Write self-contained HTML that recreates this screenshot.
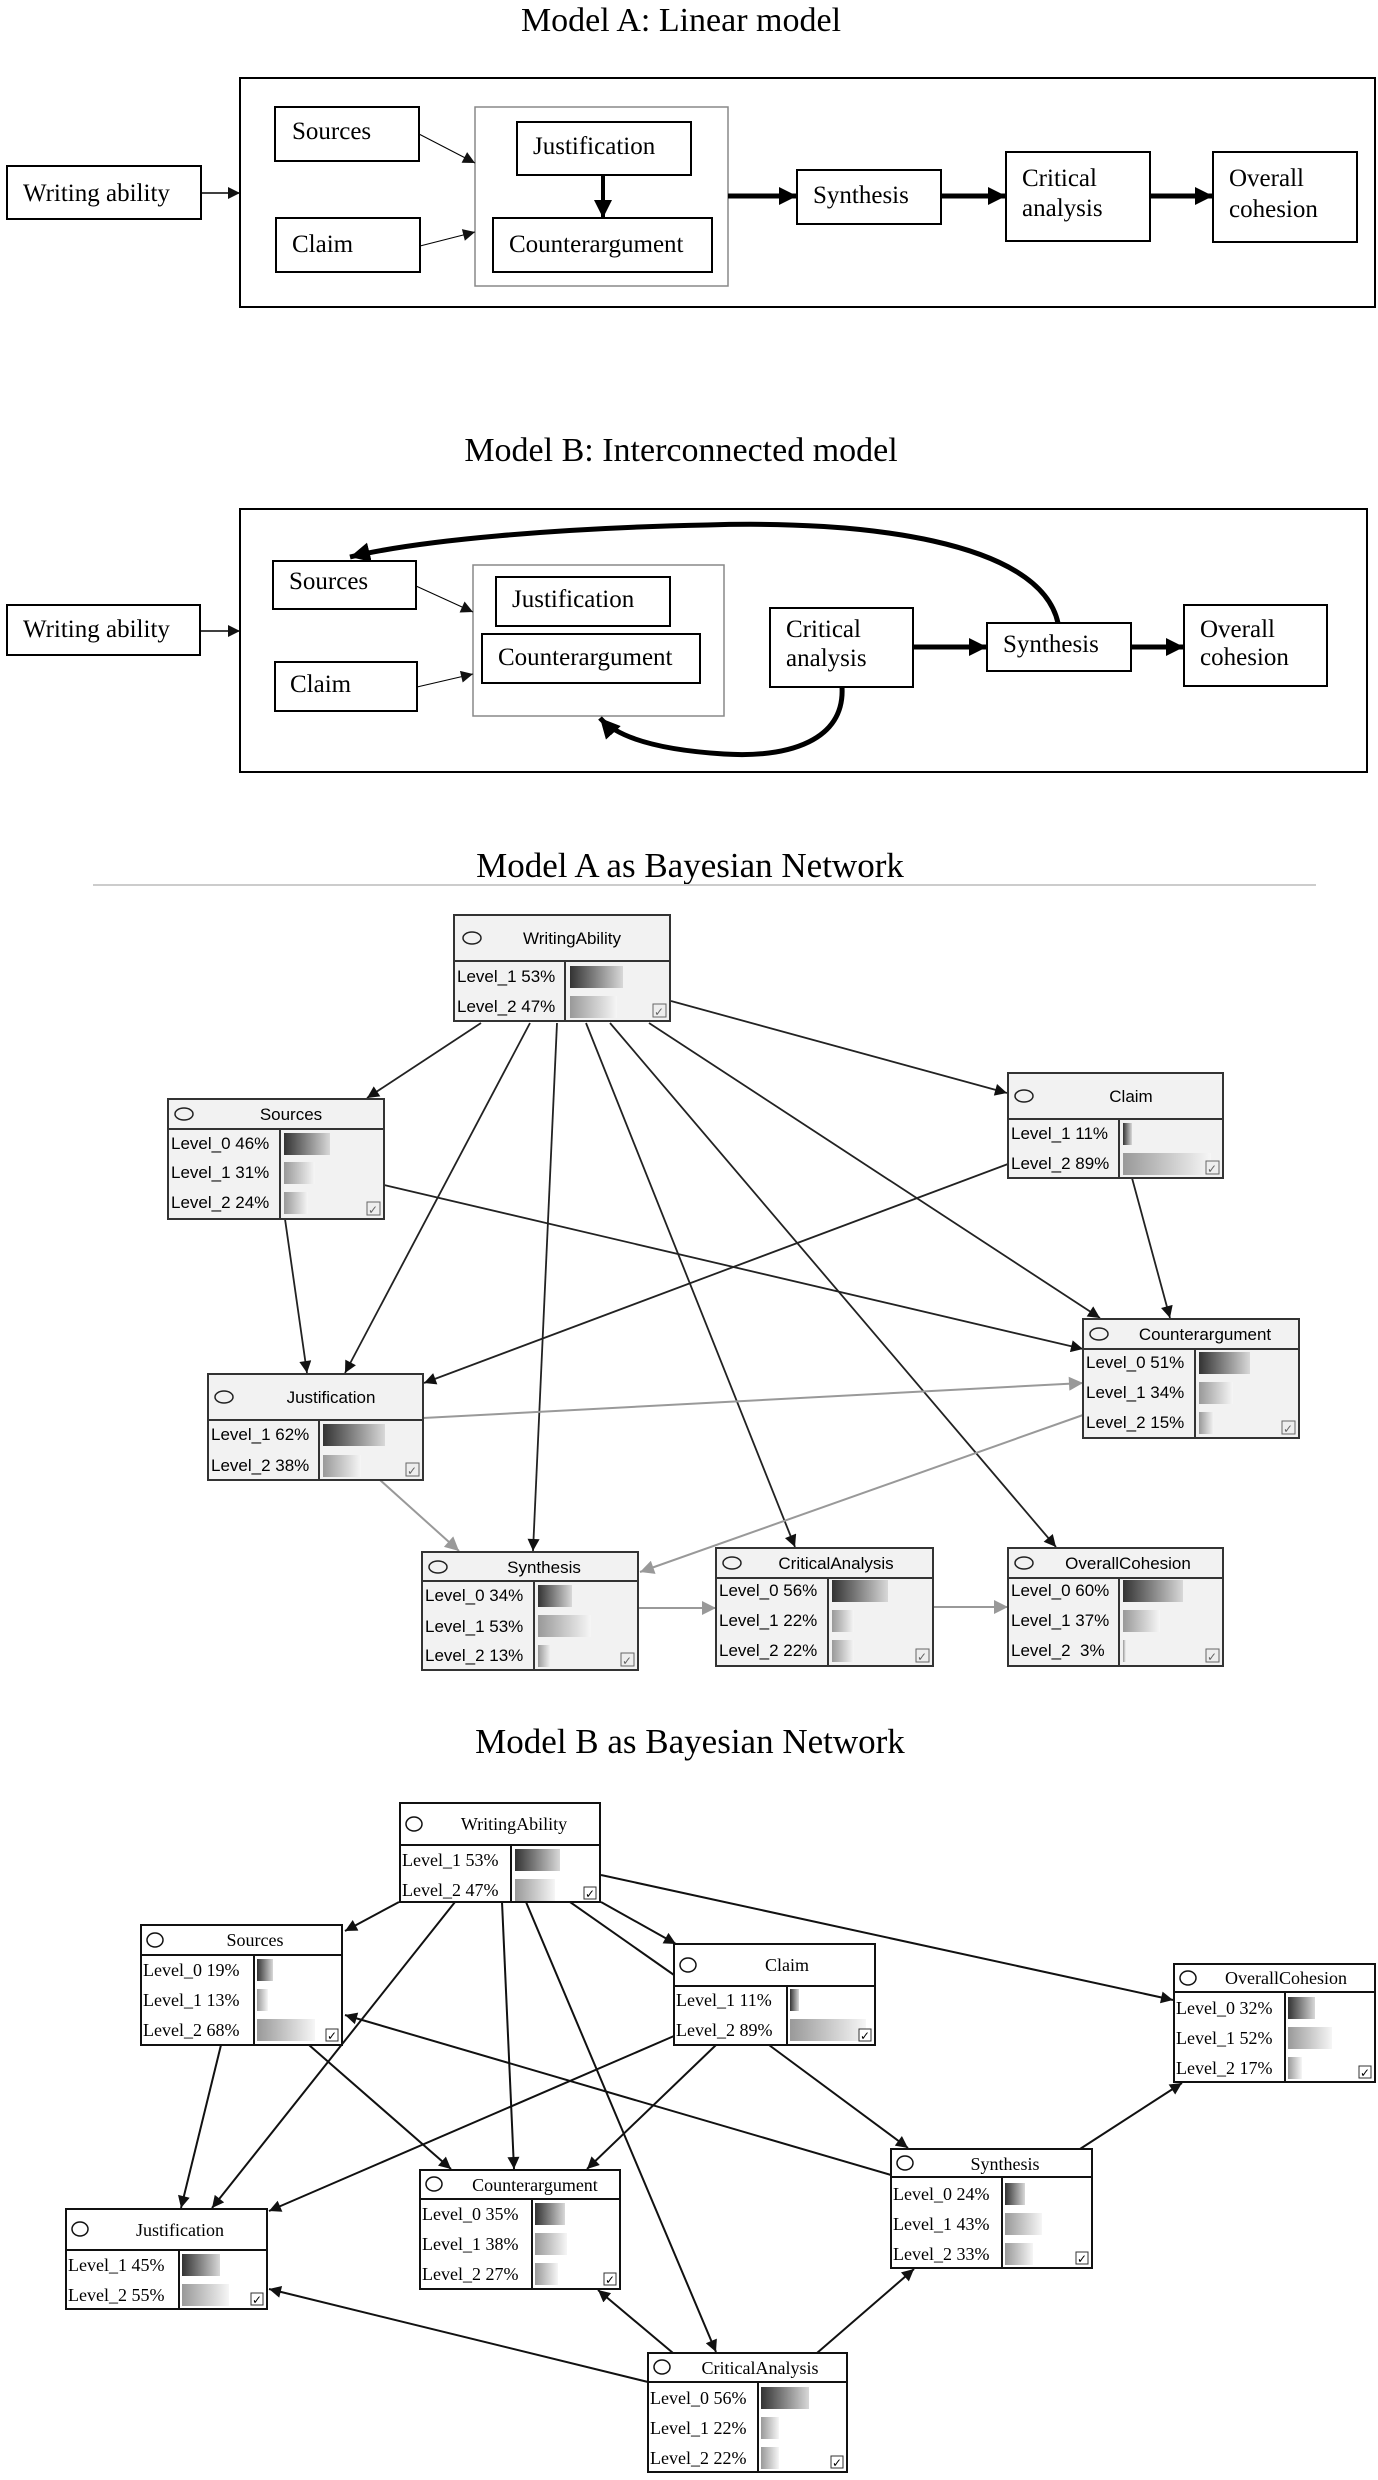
<!DOCTYPE html>
<html><head><meta charset="utf-8"><style>
html,body{margin:0;padding:0;background:#fff;}
svg{display:block;}
.t{font-family:"Liberation Serif",serif;fill:#000;}
.s{font-family:"Liberation Sans",sans-serif;fill:#000;}
</style></head><body>
<svg width="1378" height="2480" viewBox="0 0 1378 2480" xmlns="http://www.w3.org/2000/svg">
<defs>
<linearGradient id="dk" x1="0" x2="1" y1="0" y2="0"><stop offset="0" stop-color="#333"/><stop offset="1" stop-color="#d8d8d8"/></linearGradient>
<linearGradient id="lt" x1="0" x2="1" y1="0" y2="0"><stop offset="0" stop-color="#999"/><stop offset="1" stop-color="#f6f6f6"/></linearGradient>
<marker id="a" viewBox="0 0 10 10" refX="10" refY="5" markerWidth="14" markerHeight="12" markerUnits="userSpaceOnUse" orient="auto"><path d="M0,0L10,5L0,10z" fill="#111"/></marker>
<marker id="ag" viewBox="0 0 10 10" refX="10" refY="5" markerWidth="20" markerHeight="14" markerUnits="userSpaceOnUse" orient="auto"><path d="M0,0L10,5L0,10z" fill="#999"/></marker>
<marker id="ab" viewBox="0 0 10 10" refX="10" refY="5" markerWidth="22" markerHeight="18" markerUnits="userSpaceOnUse" orient="auto"><path d="M0,0L10,5L0,10z" fill="#000"/></marker>
<marker id="at" viewBox="0 0 10 10" refX="10" refY="5" markerWidth="20" markerHeight="20" markerUnits="userSpaceOnUse" orient="auto"><path d="M0,0L10,5L0,10z" fill="#000"/></marker>
</defs>

<!-- MODEL A -->
<text class="t" x="681" y="31" font-size="34" text-anchor="middle">Model A: Linear model</text>
<g fill="none" stroke="#000" stroke-width="2">
<rect x="240" y="78" width="1135" height="229"/>
<rect x="7" y="166" width="194" height="53"/>
<rect x="275" y="107" width="144" height="54"/>
<rect x="276" y="218" width="144" height="54"/>
<rect x="475" y="107" width="253" height="179" stroke="#888" stroke-width="1.5"/>
<rect x="517" y="122" width="174" height="53"/>
<rect x="493" y="218" width="219" height="54"/>
<rect x="797" y="170" width="144" height="54"/>
<rect x="1006" y="152" width="144" height="89"/>
<rect x="1213" y="152" width="144" height="90"/>
</g>
<g class="t" font-size="25">
<text x="23" y="201">Writing ability</text>
<text x="292" y="139">Sources</text>
<text x="292" y="252">Claim</text>
<text x="533" y="154">Justification</text>
<text x="509" y="252">Counterargument</text>
<text x="813" y="203">Synthesis</text>
<text x="1022" y="186">Critical</text>
<text x="1022" y="216">analysis</text>
<text x="1229" y="186">Overall</text>
<text x="1229" y="217">cohesion</text>
</g>
<g stroke="#000" fill="none">
<line x1="201" y1="193" x2="240" y2="193" stroke-width="1.5" marker-end="url(#a)"/>
<line x1="419" y1="134" x2="475" y2="163" stroke-width="1" marker-end="url(#a)"/>
<line x1="420" y1="246" x2="475" y2="232" stroke-width="1" marker-end="url(#a)"/>
<line x1="603" y1="175" x2="603" y2="218" stroke-width="4" marker-end="url(#ab)"/>
<line x1="728" y1="196" x2="797" y2="196" stroke-width="5" marker-end="url(#ab)"/>
<line x1="941" y1="196" x2="1006" y2="196" stroke-width="5" marker-end="url(#ab)"/>
<line x1="1150" y1="196" x2="1213" y2="196" stroke-width="5" marker-end="url(#ab)"/>
</g>

<!-- MODEL B -->
<text class="t" x="681" y="461" font-size="34" text-anchor="middle">Model B: Interconnected model</text>
<g fill="none" stroke="#000" stroke-width="2">
<rect x="240" y="509" width="1127" height="263"/>
<rect x="7" y="605" width="193" height="50"/>
<rect x="273" y="561" width="143" height="48"/>
<rect x="275" y="662" width="142" height="49"/>
<rect x="473" y="565" width="251" height="151" stroke="#888" stroke-width="1.5"/>
<rect x="496" y="577" width="174" height="49"/>
<rect x="482" y="634" width="218" height="49"/>
<rect x="770" y="608" width="143" height="79"/>
<rect x="987" y="623" width="144" height="48"/>
<rect x="1184" y="605" width="143" height="81"/>
</g>
<g class="t" font-size="25">
<text x="23" y="637">Writing ability</text>
<text x="289" y="589">Sources</text>
<text x="290" y="692">Claim</text>
<text x="512" y="607">Justification</text>
<text x="498" y="665">Counterargument</text>
<text x="786" y="637">Critical</text>
<text x="786" y="666">analysis</text>
<text x="1003" y="652">Synthesis</text>
<text x="1200" y="637">Overall</text>
<text x="1200" y="665">cohesion</text>
</g>
<g stroke="#000" fill="none">
<line x1="200" y1="631" x2="240" y2="631" stroke-width="1.5" marker-end="url(#a)"/>
<line x1="416" y1="586" x2="473" y2="612" stroke-width="1" marker-end="url(#a)"/>
<line x1="417" y1="687" x2="473" y2="674" stroke-width="1" marker-end="url(#a)"/>
<line x1="913" y1="647" x2="987" y2="647" stroke-width="5" marker-end="url(#ab)"/>
<line x1="1131" y1="647" x2="1184" y2="647" stroke-width="5" marker-end="url(#ab)"/>
<path d="M1058,623 C1040,540 860,520 707,525 C560,528 420,540 350,557" stroke-width="5" marker-end="url(#at)"/>
<path d="M842,687 C845,740 790,758 724,754 C660,750 618,738 600,718" stroke-width="5" marker-end="url(#at)"/>
</g>

<!-- MODEL A BN -->
<text class="t" x="690" y="877" font-size="35" text-anchor="middle">Model A as Bayesian Network</text>
<line x1="93" y1="885" x2="1316" y2="885" stroke="#ccc" stroke-width="2"/>
<g stroke="#222" stroke-width="1.8" fill="none">
<line x1="481" y1="1023" x2="367" y2="1098" marker-end="url(#a)"/>
<line x1="671" y1="1001" x2="1007" y2="1093" marker-end="url(#a)"/>
<line x1="530" y1="1023" x2="345" y2="1373" marker-end="url(#a)"/>
<line x1="557" y1="1023" x2="533" y2="1551" marker-end="url(#a)"/>
<line x1="586" y1="1023" x2="795" y2="1547" marker-end="url(#a)"/>
<line x1="610" y1="1023" x2="1056" y2="1547" marker-end="url(#a)"/>
<line x1="649" y1="1023" x2="1100" y2="1318" marker-end="url(#a)"/>
<line x1="285" y1="1219" x2="307" y2="1373" marker-end="url(#a)"/>
<line x1="384" y1="1185" x2="1083" y2="1349" marker-end="url(#a)"/>
<line x1="1008" y1="1164" x2="424" y2="1383" marker-end="url(#a)"/>
<line x1="1132" y1="1178" x2="1170" y2="1318" marker-end="url(#a)"/>
</g>
<g stroke="#999" stroke-width="2" fill="none">
<line x1="423" y1="1418" x2="1083" y2="1383" marker-end="url(#ag)"/>
<line x1="1083" y1="1415" x2="640" y2="1572" marker-end="url(#ag)"/>
<line x1="380" y1="1480" x2="459" y2="1551" marker-end="url(#ag)"/>
<line x1="638" y1="1608" x2="716" y2="1608" marker-end="url(#ag)"/>
<line x1="933" y1="1607" x2="1008" y2="1607" marker-end="url(#ag)"/>
</g>

<g class="s" font-size="17">
<g transform="translate(454,915)">
<rect width="216" height="106" fill="#f2f2f2" stroke="#333" stroke-width="2"/>
<line x1="0" y1="46" x2="216" y2="46" stroke="#333" stroke-width="2"/><line x1="111" y1="46" x2="111" y2="106" stroke="#333" stroke-width="2"/>
<ellipse cx="18" cy="23" rx="9" ry="6" fill="none" stroke="#222" stroke-width="1.5"/>
<text x="118" y="29" text-anchor="middle">WritingAbility</text>
<text x="3" y="67">Level_1 53%</text><rect x="116" y="51" width="53" height="22" fill="url(#dk)"/>
<text x="3" y="97">Level_2 47%</text><rect x="116" y="81" width="47" height="22" fill="url(#lt)"/>
<rect x="199" y="89" width="13" height="13" fill="#eee" stroke="#666"/><text x="200" y="101" font-size="12" fill="#666">✓</text>
</g>
<g transform="translate(168,1099)">
<rect width="216" height="120" fill="#f2f2f2" stroke="#333" stroke-width="2"/>
<line x1="0" y1="30" x2="216" y2="30" stroke="#333" stroke-width="2"/><line x1="112" y1="30" x2="112" y2="120" stroke="#333" stroke-width="2"/>
<ellipse cx="16" cy="15" rx="9" ry="6" fill="none" stroke="#222" stroke-width="1.5"/>
<text x="123" y="21" text-anchor="middle">Sources</text>
<text x="3" y="50">Level_0 46%</text><rect x="116" y="34" width="46" height="22" fill="url(#dk)"/>
<text x="3" y="79">Level_1 31%</text><rect x="116" y="63" width="31" height="22" fill="url(#lt)"/>
<text x="3" y="109">Level_2 24%</text><rect x="116" y="93" width="24" height="22" fill="url(#lt)"/>
<rect x="199" y="103" width="13" height="13" fill="#eee" stroke="#666"/><text x="200" y="115" font-size="12" fill="#666">✓</text>
</g>
<g transform="translate(1008,1073)">
<rect width="215" height="105" fill="#f2f2f2" stroke="#333" stroke-width="2"/>
<line x1="0" y1="46" x2="215" y2="46" stroke="#333" stroke-width="2"/><line x1="111" y1="46" x2="111" y2="105" stroke="#333" stroke-width="2"/>
<ellipse cx="16" cy="23" rx="9" ry="6" fill="none" stroke="#222" stroke-width="1.5"/>
<text x="123" y="29" text-anchor="middle">Claim</text>
<text x="3" y="66">Level_1 11%</text><rect x="115" y="50" width="9" height="22" fill="url(#dk)"/>
<text x="3" y="96">Level_2 89%</text><rect x="115" y="80" width="88" height="22" fill="url(#lt)"/>
<rect x="198" y="88" width="13" height="13" fill="#eee" stroke="#666"/><text x="199" y="100" font-size="12" fill="#666">✓</text>
</g>
<g transform="translate(1083,1319)">
<rect width="216" height="119" fill="#f2f2f2" stroke="#333" stroke-width="2"/>
<line x1="0" y1="30" x2="216" y2="30" stroke="#333" stroke-width="2"/><line x1="112" y1="30" x2="112" y2="119" stroke="#333" stroke-width="2"/>
<ellipse cx="16" cy="15" rx="9" ry="6" fill="none" stroke="#222" stroke-width="1.5"/>
<text x="122" y="21" text-anchor="middle">Counterargument</text>
<text x="3" y="49">Level_0 51%</text><rect x="116" y="33" width="51" height="22" fill="url(#dk)"/>
<text x="3" y="79">Level_1 34%</text><rect x="116" y="63" width="34" height="22" fill="url(#lt)"/>
<text x="3" y="109">Level_2 15%</text><rect x="116" y="93" width="15" height="22" fill="url(#lt)"/>
<rect x="199" y="102" width="13" height="13" fill="#eee" stroke="#666"/><text x="200" y="114" font-size="12" fill="#666">✓</text>
</g>
<g transform="translate(208,1374)">
<rect width="215" height="106" fill="#f2f2f2" stroke="#333" stroke-width="2"/>
<line x1="0" y1="46" x2="215" y2="46" stroke="#333" stroke-width="2"/><line x1="111" y1="46" x2="111" y2="106" stroke="#333" stroke-width="2"/>
<ellipse cx="16" cy="23" rx="9" ry="6" fill="none" stroke="#222" stroke-width="1.5"/>
<text x="123" y="29" text-anchor="middle">Justification</text>
<text x="3" y="66">Level_1 62%</text><rect x="115" y="50" width="62" height="22" fill="url(#dk)"/>
<text x="3" y="97">Level_2 38%</text><rect x="115" y="81" width="38" height="22" fill="url(#lt)"/>
<rect x="198" y="89" width="13" height="13" fill="#eee" stroke="#666"/><text x="199" y="101" font-size="12" fill="#666">✓</text>
</g>
<g transform="translate(422,1552)">
<rect width="216" height="118" fill="#f2f2f2" stroke="#333" stroke-width="2"/>
<line x1="0" y1="29" x2="216" y2="29" stroke="#333" stroke-width="2"/><line x1="112" y1="29" x2="112" y2="118" stroke="#333" stroke-width="2"/>
<ellipse cx="16" cy="15" rx="9" ry="6" fill="none" stroke="#222" stroke-width="1.5"/>
<text x="122" y="21" text-anchor="middle">Synthesis</text>
<text x="3" y="49">Level_0 34%</text><rect x="116" y="33" width="34" height="22" fill="url(#dk)"/>
<text x="3" y="80">Level_1 53%</text><rect x="116" y="63" width="53" height="22" fill="url(#lt)"/>
<text x="3" y="109">Level_2 13%</text><rect x="116" y="93" width="13" height="22" fill="url(#lt)"/>
<rect x="199" y="101" width="13" height="13" fill="#eee" stroke="#666"/><text x="200" y="113" font-size="12" fill="#666">✓</text>
</g>
<g transform="translate(716,1548)">
<rect width="217" height="118" fill="#f2f2f2" stroke="#333" stroke-width="2"/>
<line x1="0" y1="30" x2="217" y2="30" stroke="#333" stroke-width="2"/><line x1="112" y1="30" x2="112" y2="118" stroke="#333" stroke-width="2"/>
<ellipse cx="16" cy="15" rx="9" ry="6" fill="none" stroke="#222" stroke-width="1.5"/>
<text x="120" y="21" text-anchor="middle">CriticalAnalysis</text>
<text x="3" y="48">Level_0 56%</text><rect x="116" y="32" width="56" height="22" fill="url(#dk)"/>
<text x="3" y="78">Level_1 22%</text><rect x="116" y="62" width="22" height="22" fill="url(#lt)"/>
<text x="3" y="108">Level_2 22%</text><rect x="116" y="92" width="22" height="22" fill="url(#lt)"/>
<rect x="200" y="101" width="13" height="13" fill="#eee" stroke="#666"/><text x="201" y="113" font-size="12" fill="#666">✓</text>
</g>
<g transform="translate(1008,1548)">
<rect width="215" height="118" fill="#f2f2f2" stroke="#333" stroke-width="2"/>
<line x1="0" y1="30" x2="215" y2="30" stroke="#333" stroke-width="2"/><line x1="111" y1="30" x2="111" y2="118" stroke="#333" stroke-width="2"/>
<ellipse cx="16" cy="15" rx="9" ry="6" fill="none" stroke="#222" stroke-width="1.5"/>
<text x="120" y="21" text-anchor="middle">OverallCohesion</text>
<text x="3" y="48">Level_0 60%</text><rect x="115" y="32" width="60" height="22" fill="url(#dk)"/>
<text x="3" y="78">Level_1 37%</text><rect x="115" y="62" width="37" height="22" fill="url(#lt)"/>
<text x="3" y="108">Level_2&#160;&#160;3%</text><rect x="115" y="92" width="3" height="22" fill="url(#lt)"/>
<rect x="198" y="101" width="13" height="13" fill="#eee" stroke="#666"/><text x="199" y="113" font-size="12" fill="#666">✓</text>
</g>
</g>

<!-- MODEL B BN -->
<text class="t" x="690" y="1753" font-size="35" text-anchor="middle">Model B as Bayesian Network</text>
<g stroke="#111" stroke-width="2" fill="none">
<line x1="399" y1="1902" x2="345" y2="1931" marker-end="url(#a)"/>
<line x1="601" y1="1902" x2="676" y2="1944" marker-end="url(#a)"/>
<line x1="570" y1="1902" x2="674" y2="1975"/>
<line x1="601" y1="1875" x2="1173" y2="2000" marker-end="url(#a)"/>
<line x1="455" y1="1902" x2="212" y2="2208" marker-end="url(#a)"/>
<line x1="502" y1="1902" x2="514" y2="2169" marker-end="url(#a)"/>
<line x1="526" y1="1902" x2="716" y2="2352" marker-end="url(#a)"/>
<line x1="221" y1="2045" x2="181" y2="2208" marker-end="url(#a)"/>
<line x1="309" y1="2045" x2="451" y2="2169" marker-end="url(#a)"/>
<line x1="891" y1="2175" x2="345" y2="2015" marker-end="url(#a)"/>
<line x1="674" y1="2036" x2="269" y2="2211" marker-end="url(#a)"/>
<line x1="716" y1="2045" x2="587" y2="2169" marker-end="url(#a)"/>
<line x1="769" y1="2045" x2="908" y2="2148" marker-end="url(#a)"/>
<line x1="1080" y1="2149" x2="1182" y2="2083" marker-end="url(#a)"/>
<line x1="648" y1="2382" x2="269" y2="2289" marker-end="url(#a)"/>
<line x1="673" y1="2353" x2="598" y2="2290" marker-end="url(#a)"/>
<line x1="817" y1="2353" x2="914" y2="2269" marker-end="url(#a)"/>
</g>
<g class="t" font-size="18">
<g transform="translate(400,1803)">
<rect width="200" height="99" fill="#fff" stroke="#111" stroke-width="2"/>
<line x1="0" y1="42" x2="200" y2="42" stroke="#111" stroke-width="2"/><line x1="111" y1="42" x2="111" y2="99" stroke="#111" stroke-width="2"/>
<ellipse cx="14" cy="21" rx="8" ry="7" fill="none" stroke="#111" stroke-width="1.5"/>
<text x="114" y="27" text-anchor="middle">WritingAbility</text>
<text x="2" y="63">Level_1 53%</text><rect x="115" y="46" width="45" height="22" fill="url(#dk)"/>
<text x="2" y="93">Level_2 47%</text><rect x="115" y="76" width="40" height="22" fill="url(#lt)"/>
<rect x="184" y="84" width="12" height="12" fill="#fff" stroke="#333"/><text x="185" y="95" font-size="12">✓</text>
</g>
<g transform="translate(141,1925)">
<rect width="201" height="120" fill="#fff" stroke="#111" stroke-width="2"/>
<line x1="0" y1="30" x2="201" y2="30" stroke="#111" stroke-width="2"/><line x1="113" y1="30" x2="113" y2="120" stroke="#111" stroke-width="2"/>
<ellipse cx="14" cy="15" rx="8" ry="7" fill="none" stroke="#111" stroke-width="1.5"/>
<text x="114" y="21" text-anchor="middle">Sources</text>
<text x="2" y="51">Level_0 19%</text><rect x="116" y="34" width="16" height="22" fill="url(#dk)"/>
<text x="2" y="81">Level_1 13%</text><rect x="116" y="64" width="11" height="22" fill="url(#lt)"/>
<text x="2" y="111">Level_2 68%</text><rect x="116" y="94" width="58" height="22" fill="url(#lt)"/>
<rect x="185" y="104" width="12" height="12" fill="#fff" stroke="#333"/><text x="186" y="115" font-size="12">✓</text>
</g>
<g transform="translate(674,1944)">
<rect width="201" height="101" fill="#fff" stroke="#111" stroke-width="2"/>
<line x1="0" y1="42" x2="201" y2="42" stroke="#111" stroke-width="2"/><line x1="113" y1="42" x2="113" y2="101" stroke="#111" stroke-width="2"/>
<ellipse cx="14" cy="21" rx="8" ry="7" fill="none" stroke="#111" stroke-width="1.5"/>
<text x="113" y="27" text-anchor="middle">Claim</text>
<text x="2" y="62">Level_1 11%</text><rect x="116" y="45" width="9" height="22" fill="url(#dk)"/>
<text x="2" y="92">Level_2 89%</text><rect x="116" y="75" width="76" height="22" fill="url(#lt)"/>
<rect x="185" y="85" width="12" height="12" fill="#fff" stroke="#333"/><text x="186" y="96" font-size="12">✓</text>
</g>
<g transform="translate(1174,1964)">
<rect width="201" height="118" fill="#fff" stroke="#111" stroke-width="2"/>
<line x1="0" y1="28" x2="201" y2="28" stroke="#111" stroke-width="2"/><line x1="111" y1="28" x2="111" y2="118" stroke="#111" stroke-width="2"/>
<ellipse cx="14" cy="14" rx="8" ry="7" fill="none" stroke="#111" stroke-width="1.5"/>
<text x="112" y="20" text-anchor="middle">OverallCohesion</text>
<text x="2" y="50">Level_0 32%</text><rect x="114" y="33" width="27" height="22" fill="url(#dk)"/>
<text x="2" y="80">Level_1 52%</text><rect x="114" y="63" width="44" height="22" fill="url(#lt)"/>
<text x="2" y="110">Level_2 17%</text><rect x="114" y="93" width="14" height="22" fill="url(#lt)"/>
<rect x="185" y="102" width="12" height="12" fill="#fff" stroke="#333"/><text x="186" y="113" font-size="12">✓</text>
</g>
<g transform="translate(891,2149)">
<rect width="201" height="119" fill="#fff" stroke="#111" stroke-width="2"/>
<line x1="0" y1="28" x2="201" y2="28" stroke="#111" stroke-width="2"/><line x1="111" y1="28" x2="111" y2="119" stroke="#111" stroke-width="2"/>
<ellipse cx="14" cy="14" rx="8" ry="7" fill="none" stroke="#111" stroke-width="1.5"/>
<text x="114" y="21" text-anchor="middle">Synthesis</text>
<text x="2" y="51">Level_0 24%</text><rect x="114" y="34" width="20" height="22" fill="url(#dk)"/>
<text x="2" y="81">Level_1 43%</text><rect x="114" y="64" width="37" height="22" fill="url(#lt)"/>
<text x="2" y="111">Level_2 33%</text><rect x="114" y="94" width="28" height="22" fill="url(#lt)"/>
<rect x="185" y="103" width="12" height="12" fill="#fff" stroke="#333"/><text x="186" y="114" font-size="12">✓</text>
</g>
<g transform="translate(420,2170)">
<rect width="200" height="119" fill="#fff" stroke="#111" stroke-width="2"/>
<line x1="0" y1="29" x2="200" y2="29" stroke="#111" stroke-width="2"/><line x1="112" y1="29" x2="112" y2="119" stroke="#111" stroke-width="2"/>
<ellipse cx="14" cy="14" rx="8" ry="7" fill="none" stroke="#111" stroke-width="1.5"/>
<text x="115" y="21" text-anchor="middle">Counterargument</text>
<text x="2" y="50">Level_0 35%</text><rect x="115" y="33" width="30" height="22" fill="url(#dk)"/>
<text x="2" y="80">Level_1 38%</text><rect x="115" y="63" width="32" height="22" fill="url(#lt)"/>
<text x="2" y="110">Level_2 27%</text><rect x="115" y="93" width="23" height="22" fill="url(#lt)"/>
<rect x="184" y="103" width="12" height="12" fill="#fff" stroke="#333"/><text x="185" y="114" font-size="12">✓</text>
</g>
<g transform="translate(66,2209)">
<rect width="201" height="100" fill="#fff" stroke="#111" stroke-width="2"/>
<line x1="0" y1="41" x2="201" y2="41" stroke="#111" stroke-width="2"/><line x1="113" y1="41" x2="113" y2="100" stroke="#111" stroke-width="2"/>
<ellipse cx="14" cy="20" rx="8" ry="7" fill="none" stroke="#111" stroke-width="1.5"/>
<text x="114" y="27" text-anchor="middle">Justification</text>
<text x="2" y="62">Level_1 45%</text><rect x="116" y="45" width="38" height="22" fill="url(#dk)"/>
<text x="2" y="92">Level_2 55%</text><rect x="116" y="75" width="47" height="22" fill="url(#lt)"/>
<rect x="185" y="84" width="12" height="12" fill="#fff" stroke="#333"/><text x="186" y="95" font-size="12">✓</text>
</g>
<g transform="translate(648,2353)">
<rect width="199" height="119" fill="#fff" stroke="#111" stroke-width="2"/>
<line x1="0" y1="29" x2="199" y2="29" stroke="#111" stroke-width="2"/><line x1="110" y1="29" x2="110" y2="119" stroke="#111" stroke-width="2"/>
<ellipse cx="14" cy="14" rx="8" ry="7" fill="none" stroke="#111" stroke-width="1.5"/>
<text x="112" y="21" text-anchor="middle">CriticalAnalysis</text>
<text x="2" y="51">Level_0 56%</text><rect x="113" y="34" width="48" height="22" fill="url(#dk)"/>
<text x="2" y="81">Level_1 22%</text><rect x="113" y="64" width="18" height="22" fill="url(#lt)"/>
<text x="2" y="111">Level_2 22%</text><rect x="113" y="94" width="18" height="22" fill="url(#lt)"/>
<rect x="183" y="103" width="12" height="12" fill="#fff" stroke="#333"/><text x="184" y="114" font-size="12">✓</text>
</g>
</g>
</svg>
</body></html>
